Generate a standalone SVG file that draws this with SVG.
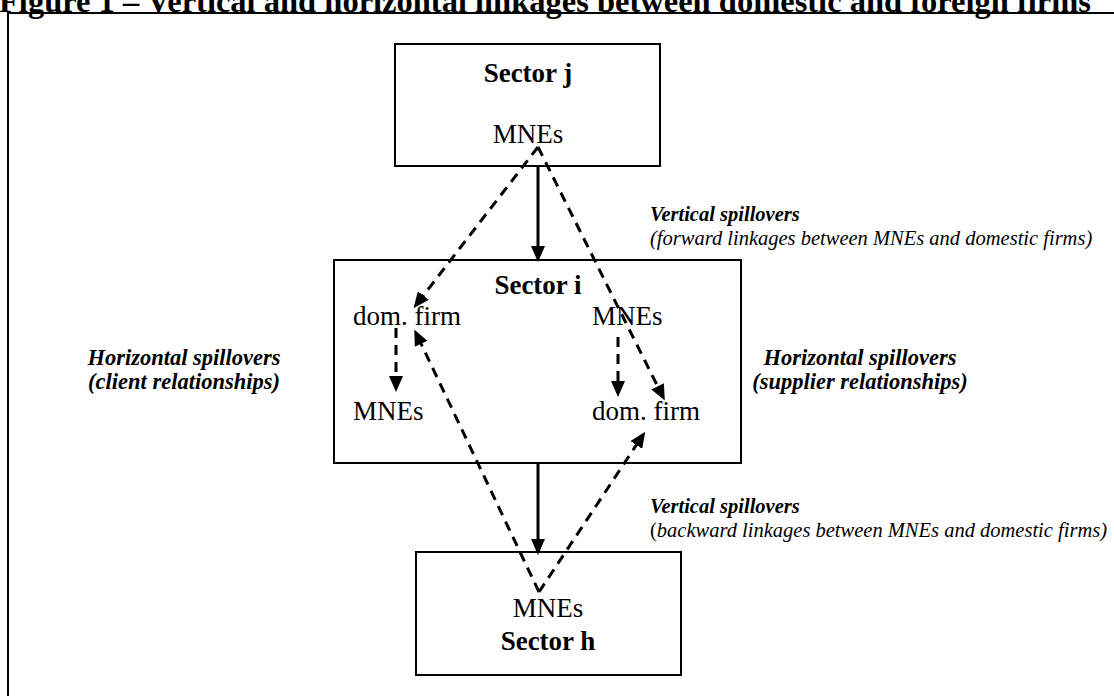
<svg xmlns="http://www.w3.org/2000/svg" width="1114" height="696" viewBox="0 0 1114 696">
<style>
.box{fill:#fff;stroke:#000;stroke-width:2}
.frame{fill:none;stroke:#000;stroke-width:2}
.t{font-family:"Liberation Serif","Times New Roman",serif;fill:#000}
.node{font-size:27px}
.b{font-weight:bold}
.lbl{font-size:20.5px;font-style:italic}
.hl{font-size:22.5px;font-style:italic;font-weight:bold}
.title{font-size:32.5px;font-weight:bold}
.solid{stroke:#000;stroke-width:3;fill:none}
.dash{stroke:#000;stroke-width:3;fill:none;stroke-dasharray:10 7}
</style>
<defs>
<marker id="ah" markerUnits="userSpaceOnUse" markerWidth="16" markerHeight="14" refX="12" refY="7" orient="auto">
<path d="M0,0 L16,7 L0,14 z" fill="#000"/>
</marker>
</defs>
<rect width="1114" height="696" fill="#fff"/>
<text class="t title" x="-1" y="12">Figure 1 – Vertical and horizontal linkages between domestic and foreign firms</text>
<rect class="frame" x="8" y="13" width="1130" height="700"/>

<g id="sector-j">
<rect class="box" x="395" y="44" width="265" height="122"/>
<text class="t node b" x="528" y="82" text-anchor="middle">Sector j</text>
<text class="t node" x="528" y="143" text-anchor="middle">MNEs</text>
</g>

<g id="sector-i">
<rect class="box" x="334" y="260" width="407" height="203"/>
<text class="t node b" x="538" y="294" text-anchor="middle">Sector i</text>
<text class="t node" x="353" y="325">dom. firm</text>
<text class="t node" x="592" y="325">MNEs</text>
<text class="t node" x="353" y="420">MNEs</text>
<text class="t node" x="592" y="420">dom. firm</text>
</g>

<g id="sector-h">
<rect class="box" x="416" y="552" width="265" height="123"/>
<text class="t node" x="548" y="617" text-anchor="middle">MNEs</text>
<text class="t node b" x="548" y="650" text-anchor="middle">Sector h</text>
</g>

<g id="label-vertical-forward">
<text class="t lbl b" x="650" y="221">Vertical spillovers</text>
<text class="t lbl" x="650" y="245">(forward linkages between MNEs and domestic firms)</text>
</g>
<g id="label-horizontal-client">
<text class="t hl" x="184" y="365" text-anchor="middle">Horizontal spillovers</text>
<text class="t hl" x="184" y="389" text-anchor="middle">(client relationships)</text>
</g>
<g id="label-horizontal-supplier">
<text class="t hl" x="860" y="365" text-anchor="middle">Horizontal spillovers</text>
<text class="t hl" x="860" y="389" text-anchor="middle">(supplier relationships)</text>
</g>
<g id="label-vertical-backward">
<text class="t lbl b" x="650" y="513">Vertical spillovers</text>
<text class="t lbl" x="650" y="537"><tspan font-style="normal">(</tspan>backward linkages between MNEs and domestic firms)</text>
</g>

<g id="connectors">
<line class="solid" x1="538" y1="166" x2="538" y2="258" marker-end="url(#ah)"/>
<line class="solid" x1="538" y1="463" x2="538" y2="551" marker-end="url(#ah)"/>
<line class="dash" x1="538" y1="147" x2="416" y2="305" marker-end="url(#ah)"/>
<line class="dash" x1="538" y1="147" x2="663" y2="397" marker-end="url(#ah)"/>
<line class="dash" x1="396" y1="328" x2="396" y2="388" marker-end="url(#ah)"/>
<line class="dash" x1="618" y1="337" x2="618" y2="393" marker-end="url(#ah)"/>
<line class="dash" x1="539" y1="592" x2="416" y2="333" marker-end="url(#ah)"/>
<line class="dash" x1="539" y1="592" x2="643" y2="435" marker-end="url(#ah)"/>
</g>
</svg>
